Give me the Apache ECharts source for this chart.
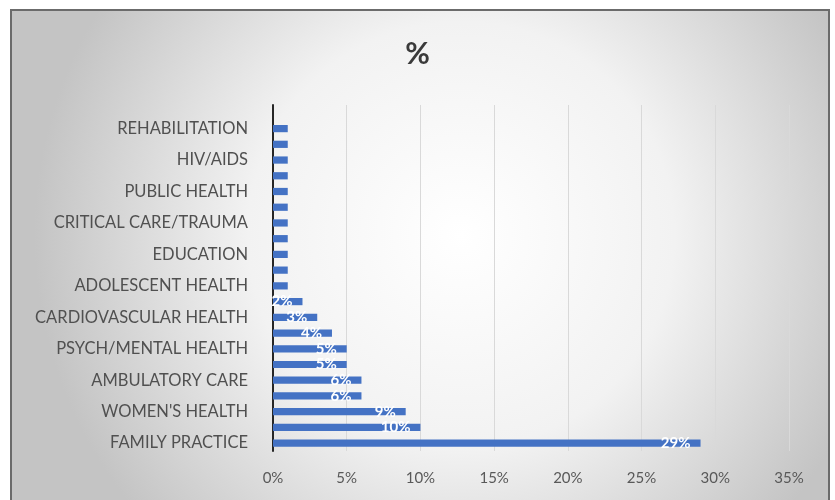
<!DOCTYPE html>
<html>
<head>
<meta charset="utf-8">
<script src="https://cdn.jsdelivr.net/npm/echarts@6/dist/echarts.min.js"></script>
<style>html,body{margin:0;padding:0;background:#fff;}#c{width:835px;height:500px;}</style>
</head>
<body>
<div id="c"></div>
<script>
// bottom-to-top order (category axis starts at bottom)
const categories = [
  "FAMILY PRACTICE", "INTERNAL MEDICINE", "WOMEN'S HEALTH", "PEDIATRICS",
  "AMBULATORY CARE", "EMERGENCY MEDICINE", "PSYCH/MENTAL HEALTH", "GERIATRICS",
  "CARDIOVASCULAR HEALTH", "ONCOLOGY", "ADOLESCENT HEALTH", "ORTHOPEDICS",
  "EDUCATION", "DERMATOLOGY", "CRITICAL CARE/TRAUMA", "NEPHROLOGY",
  "PUBLIC HEALTH", "WOUND CARE", "HIV/AIDS", "PALLIATIVE CARE",
  "REHABILITATION", ""
];
const values = [29, 10, 9, 6, 6, 5, 5, 4, 3, 2, 1, 1, 1, 1, 1, 1, 1, 1, 1, 1, 1, null];
const xTicks = [0, 5, 10, 15, 20, 25, 30, 35];

const chart = echarts.init(document.getElementById('c'));
const font = 'Lato, "Open Sans", sans-serif';
chart.setOption({
  animation: false,
  backgroundColor: 'transparent',
  graphic: [{
    type: 'rect', z: -10, silent: true,
    shape: { x: 11, y: 10, width: 818, height: 500 },
    style: {
      fill: { type: 'radial', x: 0.55, y: 0.45, r: 0.85,
        colorStops: [{ offset: 0, color: '#ffffff' }, { offset: 0.5, color: '#f2f2f2' }, { offset: 1, color: '#c4c4c4' }] },
      stroke: '#6b6b6b', lineWidth: 2
    }
  }],
  title: {
    text: '%', left: 'center', top: 34,
    textStyle: { fontFamily: font, fontSize: 30, fontWeight: 'bold', color: '#3a3a3a' }
  },
  grid: { left: 273, right: 46, top: 105, bottom: 49, containLabel: false },
  xAxis: {
    type: 'value', min: 0, max: 35, interval: 5,
    axisLine: { show: false }, axisTick: { show: false },
    splitLine: { show: true, lineStyle: { color: '#d9d9d9', width: 1 } },
    axisLabel: { formatter: v => xTicks.includes(v) ? v + '%' : '', margin: 20,
      fontFamily: font, fontSize: 15, color: '#595959' }
  },
  yAxis: {
    type: 'category', data: categories,
    axisLine: { show: true, lineStyle: { color: '#262626', width: 2 } },
    axisTick: { show: false },
    axisLabel: { interval: 1, margin: 25, fontFamily: font, fontSize: 16.5, color: '#505050' }
  },
  series: [{
    type: 'bar', data: values, barWidth: '46%',
    itemStyle: { color: '#4472C4' },
    label: {
      show: true, position: 'insideRight', distance: 10,
      formatter: p => (p.value >= 2 ? p.value + '%' : ''),
      color: '#ffffff', fontFamily: font, fontSize: 15, fontWeight: 'bold'
    }
  }]
});
</script>
</body>
</html>
